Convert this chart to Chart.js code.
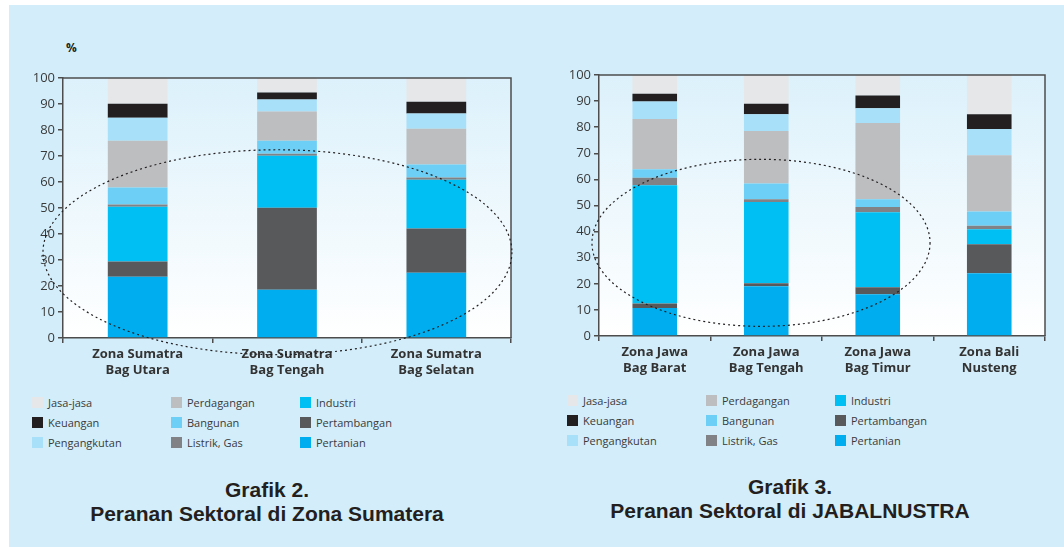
<!DOCTYPE html>
<html lang="id">
<head>
<meta charset="UTF-8">
<title>Peranan Sektoral</title>
<script src="https://cdn.jsdelivr.net/npm/chart.js"></script>
<style>
  body { margin: 0; background: #ffffff; }
  #page { position: absolute; left: 9px; top: 5px; width: 1055px; height: 542px; background: #d3eefa; }
  .box { position: absolute; }
  .pct { position: absolute; font: bold 12px "Open Sans", sans-serif; color: #231f20; }
  .legend { position: absolute; display: grid; grid-template-rows: 20px 20px 20px; grid-auto-flow: column;
            grid-template-columns: 139px 129px 150px; font: 11px "Open Sans", sans-serif; color: #3a3a3a; }
  .legend div { display: flex; align-items: center; white-space: nowrap; }
  .legend span { display: inline-block; width: 11px; height: 11px; margin-right: 5px; }
  .title { position: absolute; width: 460px; text-align: center; font: bold 21px "Liberation Sans", Arial, sans-serif;
           color: #231f20; line-height: 24px; }
</style>
</head>
<body>
<div id="page"></div>

<div class="pct" style="left:66px; top:39px;">%</div>
<div class="box" style="left:20px; top:60px;"><canvas id="chartSumatera" width="510" height="325"></canvas></div>
<div class="legend" id="legendSumatera" style="left:32px; top:392px;"></div>
<div class="title" style="left:37px; top:478px;">Grafik 2.<br>Peranan Sektoral di Zona Sumatera</div>

<div class="box" style="left:560px; top:55px;"><canvas id="chartJabal" width="500" height="330"></canvas></div>
<div class="legend" id="legendJabal" style="left:567px; top:390px;"></div>
<div class="title" style="left:560px; top:475px;">Grafik 3.<br>Peranan Sektoral di JABALNUSTRA</div>

<script>
// sektor, urutan tumpukan dari bawah ke atas
const sectors = ['Pertanian', 'Pertambangan', 'Industri', 'Listrik, Gas', 'Bangunan',
                 'Perdagangan', 'Pengangkutan', 'Keuangan', 'Jasa-jasa'];
const sectorColors = ['#00aeef', '#58595b', '#00bff3', '#808285', '#6dcff6',
                      '#bcbec0', '#a8e0f9', '#231f20', '#e6e7e8'];

// Grafik 2 - Zona Sumatera (%)
const sumateraZones = [['Zona Sumatra', 'Bag Utara'], ['Zona Sumatra', 'Bag Tengah'], ['Zona Sumatra', 'Bag Selatan']];
const sumUtara   = [23.6, 5.8, 21.1, 0.8, 6.6, 18.0, 8.8, 5.4, 9.9];
const sumTengah  = [18.6, 31.5, 20.0, 0.8, 5.0, 11.2, 4.6, 2.7, 5.6];
const sumSelatan = [25.1, 17.0, 18.8, 0.8, 5.0, 13.8, 5.8, 4.6, 9.1];

// Grafik 3 - JABALNUSTRA (%)
const jabalZones = [['Zona Jawa', 'Bag Barat'], ['Zona Jawa', 'Bag Tengah'], ['Zona Jawa', 'Bag Timur'], ['Zona Bali', 'Nusteng']];
const jawaBarat  = [10.7, 1.8, 45.3, 2.8, 3.3, 19.2, 6.7, 3.0, 7.2];
const jawaTengah = [19.1, 1.1, 31.1, 1.1, 6.0, 20.1, 6.5, 4.0, 11.0];
const jawaTimur  = [16.0, 2.7, 28.7, 2.0, 3.0, 29.2, 5.7, 4.8, 7.9];
const baliNusteng = [24.0, 11.2, 5.7, 1.3, 5.5, 21.6, 10.0, 5.7, 15.0];

const yTicks = [0, 10, 20, 30, 40, 50, 60, 70, 80, 90, 100];

const axisColor = '#4d4d4d';

function buildDatasets(zoneRows) {
  return sectors.map((name, i) => ({
    label: name,
    data: zoneRows.map(r => r[i]),
    backgroundColor: sectorColors[i],
    borderWidth: 0,
    barPercentage: 0.8,
    categoryPercentage: 0.5
  }));
}

// latar area plot + bingkai atas/kanan + elips putus-putus
const framePlugin = {
  id: 'frame',
  beforeDraw(chart) {
    const { ctx, chartArea: a } = chart;
    const g = ctx.createLinearGradient(0, a.top, 0, a.bottom);
    g.addColorStop(0, '#dcf1fb');
    g.addColorStop(1, '#ffffff');
    ctx.save();
    ctx.fillStyle = g;
    ctx.fillRect(a.left, a.top, a.right - a.left, a.bottom - a.top);
    ctx.restore();
  },
  afterDraw(chart, args, opts) {
    const { ctx, chartArea: a, scales } = chart;
    ctx.save();
    ctx.strokeStyle = axisColor;
    ctx.lineWidth = 1.5;
    ctx.beginPath();
    ctx.moveTo(a.left, a.top);
    ctx.lineTo(a.right, a.top);
    ctx.lineTo(a.right, a.bottom);
    ctx.stroke();
    if (opts.ellipse) {
      const e = opts.ellipse;
      const cx = scales.x.getPixelForValue(e.cx);
      const rx = scales.x.getPixelForValue(e.cx + e.rx) - cx;
      const cy = scales.y.getPixelForValue(e.cy);
      const ry = cy - scales.y.getPixelForValue(e.cy + e.ry);
      ctx.strokeStyle = '#231f20';
      ctx.lineWidth = 1.2;
      ctx.setLineDash([2, 3]);
      ctx.beginPath();
      ctx.ellipse(cx, cy, rx, ry, 0, 0, Math.PI * 2);
      ctx.stroke();
    }
    ctx.restore();
  }
};

function makeChart(id, zones, rows, yWidth, xHeight, padding, ellipse) {
  return new Chart(document.getElementById(id), {
    type: 'bar',
    data: { labels: zones, datasets: buildDatasets(rows) },
    options: {
      responsive: false,
      animation: false,
      layout: { padding: padding },
      plugins: {
        legend: { display: false },
        tooltip: { enabled: false },
        frame: { ellipse: ellipse }
      },
      scales: {
        x: {
          stacked: true,
          grid: { drawOnChartArea: false, tickLength: 5, color: axisColor, lineWidth: 1.5 },
          border: { color: axisColor, width: 1.5 },
          ticks: { color: '#333333', padding: 3, font: { family: 'Open Sans', size: 13, weight: 'bold', lineHeight: 1.25 } },
          afterFit(scale) { scale.height = xHeight; }
        },
        y: {
          stacked: true,
          min: 0,
          max: 100,
          afterBuildTicks(scale) { scale.ticks = yTicks.map(v => ({ value: v })); },
          grid: { drawOnChartArea: false, tickLength: 5, color: axisColor, lineWidth: 1.5 },
          border: { color: axisColor, width: 1.5 },
          ticks: { color: '#3a3a3a', padding: 3, font: { family: 'Open Sans', size: 13 } },
          afterFit(scale) { scale.width = yWidth; }
        }
      }
    },
    plugins: [framePlugin]
  });
}

function buildLegend(id) {
  const el = document.getElementById(id);
  for (let i = sectors.length - 1; i >= 0; i--) {
    const item = document.createElement('div');
    item.innerHTML = '<span style="background:' + sectorColors[i] + '"></span>' + sectors[i];
    el.appendChild(item);
  }
}

makeChart('chartSumatera', sumateraZones, [sumUtara, sumTengah, sumSelatan],
  43, 47, { top: 18, right: 19, left: 0, bottom: 0 },
  { cx: 0.936, cy: 33, rx: 1.57, ry: 39.4 });

makeChart('chartJabal', jabalZones, [jawaBarat, jawaTengah, jawaTimur, baliNusteng],
  39, 49, { top: 20, right: 15, left: 0, bottom: 0 },
  { cx: 0.953, cy: 35.7, rx: 1.516, ry: 32 });

buildLegend('legendSumatera');
buildLegend('legendJabal');
</script>
</body>
</html>
